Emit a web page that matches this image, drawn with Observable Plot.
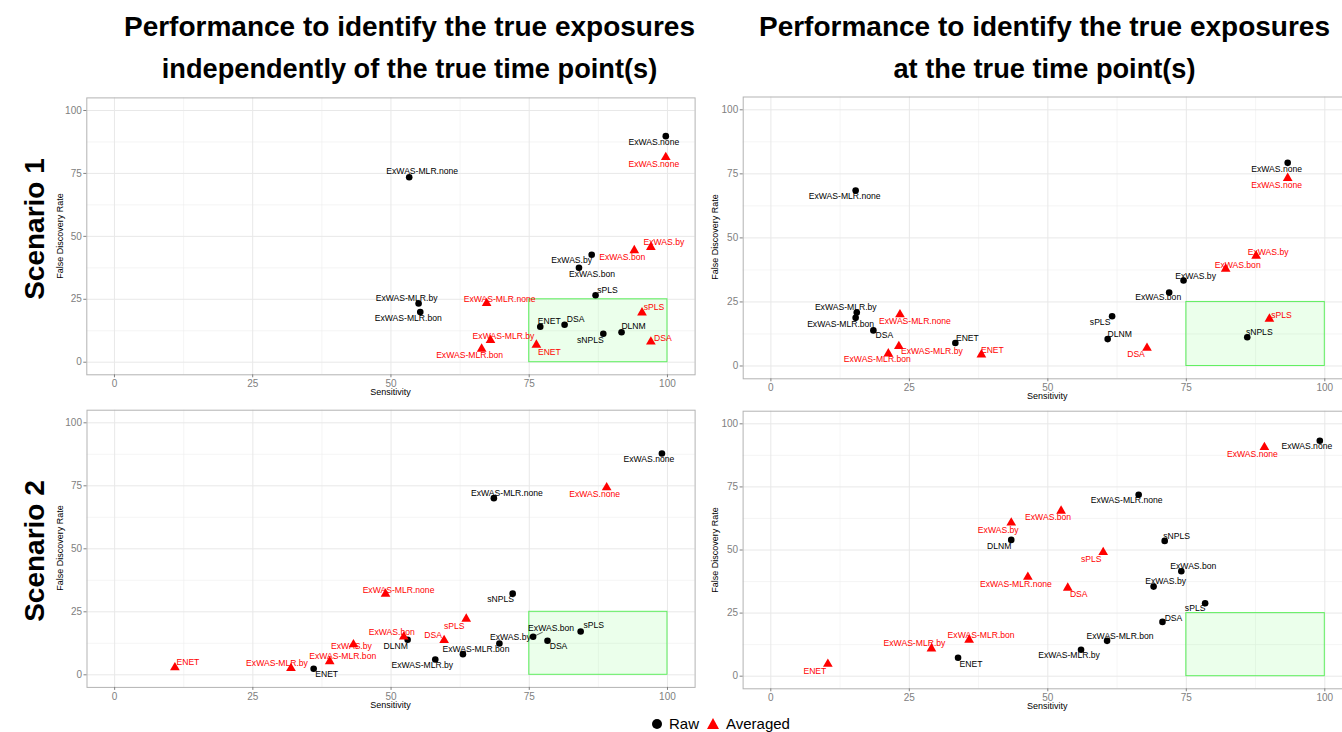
<!DOCTYPE html>
<html>
<head>
<meta charset="utf-8">
<script src="https://cdn.jsdelivr.net/npm/d3@7"></script>
<script src="https://cdn.jsdelivr.net/npm/@observablehq/plot@0.6"></script>
<style>
html,body{margin:0;padding:0;background:#fff;overflow:hidden;}
#root{position:relative;width:1342px;height:732px;overflow:hidden;font-family:"Liberation Sans",Arial,Helvetica,sans-serif;}
.abs{position:absolute;}
.title{font-weight:bold;line-height:42px;text-align:center;color:#000;white-space:nowrap;width:700px;}
.scen{font-weight:bold;font-size:28px;line-height:34px;text-align:center;width:240px;height:34px;transform:rotate(-90deg);white-space:nowrap;}
.ylab{font-size:9px;line-height:12px;text-align:center;width:200px;height:12px;transform:rotate(-90deg);white-space:nowrap;}
.xlab{font-size:9px;line-height:12px;text-align:center;width:200px;height:12px;white-space:nowrap;}
.panel svg{display:block;max-width:none !important;}
.legend{font-size:15px;line-height:20px;white-space:nowrap;}
</style>
</head>
<body>
<div id="root"></div>
<script>
// ---------- data ----------
const majorBreaks = [0, 25, 50, 75, 100];
const minorBreaks = [12.5, 37.5, 62.5, 87.5];
const targetZone = [{sensMin: 75, sensMax: 100, fdrMin: 0, fdrMax: 25}];
const seriesNames = ["Raw", "Averaged"];
const columnTitles = [
  ["Performance to identify the true exposures", "independently of the true time point(s)"],
  ["Performance to identify the true exposures", "at the true time point(s)"]
];
const rowTitles = ["Scenario 1", "Scenario 2"];

const s1IndRaw = [
  {method: "ExWAS.none", sens: 99.7, fdr: 89.8},
  {method: "ExWAS-MLR.none", sens: 53.3, fdr: 73.5},
  {method: "ExWAS.by", sens: 86.3, fdr: 42.7},
  {method: "ExWAS.bon", sens: 84.0, fdr: 37.5},
  {method: "sPLS", sens: 87.0, fdr: 26.6},
  {method: "ExWAS-MLR.by", sens: 55.0, fdr: 23.3},
  {method: "ExWAS-MLR.bon", sens: 55.3, fdr: 19.9},
  {method: "ENET", sens: 77.0, fdr: 14.1},
  {method: "DSA", sens: 81.4, fdr: 14.9},
  {method: "sNPLS", sens: 88.4, fdr: 11.3},
  {method: "DLNM", sens: 91.7, fdr: 11.9}
];
const s1IndAvg = [
  {method: "ExWAS.none", sens: 99.7, fdr: 81.4},
  {method: "ExWAS.by", sens: 97.0, fdr: 45.7},
  {method: "ExWAS.bon", sens: 94.0, fdr: 44.4},
  {method: "ExWAS-MLR.none", sens: 67.3, fdr: 23.4},
  {method: "sPLS", sens: 95.4, fdr: 19.7},
  {method: "ExWAS-MLR.by", sens: 68.0, fdr: 8.7},
  {method: "DSA", sens: 97.0, fdr: 8.1},
  {method: "ENET", sens: 76.3, fdr: 6.9},
  {method: "ExWAS-MLR.bon", sens: 66.4, fdr: 5.3}
];
const s1TimeRaw = [
  {method: "ExWAS-MLR.none", sens: 15.3, fdr: 68.5},
  {method: "ExWAS-MLR.by", sens: 15.5, fdr: 20.9},
  {method: "ExWAS-MLR.bon", sens: 15.3, fdr: 18.8},
  {method: "DSA", sens: 18.5, fdr: 13.9},
  {method: "ENET", sens: 33.3, fdr: 9.0},
  {method: "ExWAS.none", sens: 93.3, fdr: 79.3},
  {method: "ExWAS.by", sens: 74.5, fdr: 33.4},
  {method: "ExWAS.bon", sens: 71.9, fdr: 28.7},
  {method: "sPLS", sens: 61.6, fdr: 19.4},
  {method: "DLNM", sens: 60.8, fdr: 10.5},
  {method: "sNPLS", sens: 86.0, fdr: 11.2}
];
const s1TimeAvg = [
  {method: "ExWAS-MLR.none", sens: 23.3, fdr: 20.1},
  {method: "ExWAS-MLR.by", sens: 23.1, fdr: 7.7},
  {method: "ExWAS-MLR.bon", sens: 21.2, fdr: 4.8},
  {method: "ENET", sens: 38.0, fdr: 4.4},
  {method: "ExWAS.none", sens: 93.3, fdr: 73.3},
  {method: "ExWAS.by", sens: 87.6, fdr: 43.0},
  {method: "ExWAS.bon", sens: 82.1, fdr: 37.9},
  {method: "sPLS", sens: 90.0, fdr: 18.4},
  {method: "DSA", sens: 67.9, fdr: 7.0}
];
const s2IndRaw = [
  {method: "ENET", sens: 36.0, fdr: 2.4},
  {method: "DLNM", sens: 53.0, fdr: 13.9},
  {method: "ExWAS.none", sens: 99.0, fdr: 87.8},
  {method: "ExWAS-MLR.none", sens: 68.6, fdr: 70.1},
  {method: "sNPLS", sens: 72.0, fdr: 32.2},
  {method: "ExWAS.by", sens: 69.6, fdr: 12.4},
  {method: "ExWAS-MLR.bon", sens: 63.0, fdr: 8.2},
  {method: "ExWAS-MLR.by", sens: 58.0, fdr: 6.1},
  {method: "ExWAS.bon", sens: 75.7, fdr: 15.1},
  {method: "DSA", sens: 78.3, fdr: 13.5},
  {method: "sPLS", sens: 84.3, fdr: 17.2}
];
const s2IndAvg = [
  {method: "ENET", sens: 10.9, fdr: 2.9},
  {method: "ExWAS-MLR.by", sens: 31.9, fdr: 2.6},
  {method: "ExWAS-MLR.bon", sens: 38.9, fdr: 5.3},
  {method: "ExWAS.by", sens: 43.2, fdr: 12.0},
  {method: "ExWAS-MLR.none", sens: 49.0, fdr: 32.1},
  {method: "ExWAS.bon", sens: 52.3, fdr: 15.1},
  {method: "ExWAS.none", sens: 89.0, fdr: 74.3},
  {method: "sPLS", sens: 63.6, fdr: 22.2},
  {method: "DSA", sens: 59.6, fdr: 13.7}
];
const s2TimeRaw = [
  {method: "ENET", sens: 33.8, fdr: 7.3},
  {method: "DLNM", sens: 43.4, fdr: 54.0},
  {method: "ExWAS-MLR.none", sens: 66.4, fdr: 71.9},
  {method: "ExWAS.none", sens: 99.1, fdr: 93.3},
  {method: "sNPLS", sens: 71.1, fdr: 53.6},
  {method: "ExWAS.bon", sens: 74.1, fdr: 41.6},
  {method: "ExWAS.by", sens: 69.1, fdr: 35.5},
  {method: "sPLS", sens: 78.4, fdr: 28.9},
  {method: "DSA", sens: 70.7, fdr: 21.5},
  {method: "ExWAS-MLR.bon", sens: 60.7, fdr: 14.0},
  {method: "ExWAS-MLR.by", sens: 56.0, fdr: 10.5}
];
const s2TimeAvg = [
  {method: "ENET", sens: 10.3, fdr: 4.8},
  {method: "ExWAS-MLR.by", sens: 29.0, fdr: 10.9},
  {method: "ExWAS-MLR.bon", sens: 35.8, fdr: 14.4},
  {method: "ExWAS.by", sens: 43.4, fdr: 60.8},
  {method: "ExWAS-MLR.none", sens: 46.4, fdr: 39.3},
  {method: "ExWAS.bon", sens: 52.4, fdr: 65.5},
  {method: "ExWAS.none", sens: 89.1, fdr: 90.7},
  {method: "sPLS", sens: 60.0, fdr: 49.1},
  {method: "DSA", sens: 53.6, fdr: 35.0}
];

// ---------- label placement (pixel nudges, like ggrepel output) ----------
const nudge = {
  s1IndRaw: {"ExWAS.none":[-12,6],"ExWAS-MLR.none":[13,-6],"ExWAS.by":[-20,6],"ExWAS.bon":[13,6],"sPLS":[12,-5],
    "ExWAS-MLR.by":[-12,-5],"ExWAS-MLR.bon":[-12,6],"ENET":[9,-5],"DSA":[11,-5],"sNPLS":[-13,6],"DLNM":[12,-6]},
  s1IndAvg: {"ExWAS.none":[-12,7],"ExWAS.by":[13,-5],"ExWAS.bon":[-12,7],"ExWAS-MLR.none":[13,-4],"sPLS":[12,-5],
    "ExWAS-MLR.by":[13,-4],"DSA":[12,-4],"ENET":[13,7],"ExWAS-MLR.bon":[-12,6]},
  s1TimeRaw: {"ExWAS-MLR.none":[-11,6],"ExWAS-MLR.by":[-11,-5],"ExWAS-MLR.bon":[-15,6],"DSA":[11,5],"ENET":[12,-5],
    "ExWAS.none":[-11,6],"ExWAS.by":[12,-4],"ExWAS.bon":[-11,5],"sPLS":[-12,6],"DLNM":[12,-5],"sNPLS":[12,-5]},
  s1TimeAvg: {"ExWAS-MLR.none":[15,7],"ExWAS-MLR.by":[33,5],"ExWAS-MLR.bon":[-11,6],"ENET":[11,-4],"ExWAS.none":[-11,7],
    "ExWAS.by":[12,-4],"ExWAS.bon":[12,-4],"sPLS":[12,-4],"DSA":[-11,6]},
  s2IndRaw: {"ENET":[13,5],"DLNM":[-12,6],"ExWAS.none":[-13,6],"ExWAS-MLR.none":[13,-5],"sNPLS":[-12,6],"ExWAS.by":[11,-6],
    "ExWAS-MLR.bon":[13,-5],"ExWAS-MLR.by":[-13,6],"ExWAS.bon":[18,-9,9.6,-4.6],"DSA":[11,5],"sPLS":[13,-6]},
  s2IndAvg: {"ENET":[13,-5],"ExWAS-MLR.by":[-14,-5],"ExWAS-MLR.bon":[13,-5],"ExWAS.by":[-2,2],"ExWAS-MLR.none":[13,-4],
    "ExWAS.bon":[-12,-5],"ExWAS.none":[-12,7],"sPLS":[-12,7],"DSA":[-11,-5]},
  s2TimeRaw: {"ENET":[13,6],"DLNM":[-12,6],"ExWAS-MLR.none":[-12,6],"ExWAS.none":[-13,6],"sNPLS":[12,-5],"ExWAS.bon":[12,-5],
    "ExWAS.by":[12,-5],"sPLS":[-10,5],"DSA":[11,-4],"ExWAS-MLR.bon":[13,-5],"ExWAS-MLR.by":[-12,6]},
  s2TimeAvg: {"ENET":[-13,7],"ExWAS-MLR.by":[-17,-5],"ExWAS-MLR.bon":[12,-5],"ExWAS.by":[-13,7],"ExWAS-MLR.none":[-12,7],
    "ExWAS.bon":[-13,6],"ExWAS.none":[-12,7],"sPLS":[-12,7],"DSA":[11,6]}
};

const root = document.getElementById("root");
function addDiv(cls, text, style) {
  const d = document.createElement("div");
  d.className = "abs " + cls;
  d.textContent = text;
  Object.assign(d.style, style);
  root.appendChild(d);
  return d;
}

const LABEL_SIZE = 8.6;
function textMarks(data, nd, color, g) {
  const out = [];
  const pxX = (g.width - g.ml - g.mr) / 110;
  const pxY = (g.height - g.mt - g.mb) / 110;
  for (const d of data) {
    const n = nd[d.method] || [0, 0];
    if (n.length > 2) {
      out.push(Plot.link([d], {x1: "sens", y1: "fdr", x2: v => v.sens + n[2] / pxX, y2: v => v.fdr - n[3] / pxY,
        stroke: color, strokeWidth: 0.6}));
    }
    out.push(Plot.text([d], {x: "sens", y: "fdr", text: "method", dx: n[0], dy: n[1], fill: color,
      fontSize: LABEL_SIZE, fontFamily: "Liberation Sans, Arial, sans-serif"}));
  }
  return out;
}

function panel(raw, avg, ndRaw, ndAvg, g) {
  const marks = [
    Plot.ruleX(minorBreaks, {stroke: "#efefef", strokeWidth: 0.6}),
    Plot.ruleY(minorBreaks, {stroke: "#efefef", strokeWidth: 0.6}),
    Plot.ruleX(majorBreaks, {stroke: "#e8e8e8", strokeWidth: 1}),
    Plot.ruleY(majorBreaks, {stroke: "#e8e8e8", strokeWidth: 1}),
    Plot.rect(targetZone, {x1: "sensMin", x2: "sensMax", y1: "fdrMin", y2: "fdrMax",
      fill: "#00ff00", fillOpacity: 0.08, stroke: "#33ee33", strokeOpacity: 0.75, strokeWidth: 1}),
    Plot.frame({stroke: "#b3b3b3", strokeWidth: 1}),
    Plot.axisX({ticks: majorBreaks, tickSize: 3, tickPadding: 2, label: null, color: "#808080", fontSize: 10}),
    Plot.axisY({ticks: majorBreaks, tickSize: 3, tickPadding: 2, label: null, color: "#808080", fontSize: 10}),
    Plot.dot(raw, {x: "sens", y: "fdr", r: 3.3, fill: "black", symbol: "circle"}),
    Plot.dot(avg, {x: "sens", y: "fdr", r: 3.6, fill: "#ff0000", symbol: "triangle"}),
    ...textMarks(raw, ndRaw, "#000000", g),
    ...textMarks(avg, ndAvg, "#ff0000", g)
  ];
  const svg = Plot.plot({
    width: g.width, height: g.height,
    marginTop: g.mt, marginBottom: g.mb, marginLeft: g.ml, marginRight: g.mr,
    x: {domain: [-5, 105]}, y: {domain: [-5, 105]},
    style: {fontFamily: "Liberation Sans, Arial, sans-serif", fontSize: "10px", background: "transparent",
      overflow: "visible", maxWidth: "none"},
    marks
  });
  svg.style.maxWidth = "none";
  svg.style.width = g.width + "px";
  svg.style.height = g.height + "px";
  const wrap = document.createElement("div");
  wrap.className = "abs panel";
  wrap.style.left = g.left + "px";
  wrap.style.top = g.top + "px";
  wrap.style.width = g.width + "px";
  wrap.style.height = g.height + "px";
  wrap.appendChild(svg);
  root.appendChild(wrap);
  // axis titles
  const cx = g.left + g.ml + (g.width - g.ml - g.mr) / 2;
  const cy = g.top + g.mt + (g.height - g.mt - g.mb) / 2;
  addDiv("xlab", "Sensitivity", {left: (cx - 100) + "px", top: (g.top + g.height - g.mb + 12) + "px"});
  addDiv("ylab", "False Discovery Rate", {left: (g.yLabX - 100) + "px", top: (cy - 6) + "px"});
}

const geoTL = {left: 0, top: 90, width: 695, height: 310, mt: 7.4, mb: 25.7, ml: 86.3, mr: 0.4, yLabX: 60};
const geoTR = {left: 700, top: 90, width: 652, height: 310, mt: 6.5, mb: 21.7, ml: 42.7, mr: 0, yLabX: 715};
const geoBL = {left: 0, top: 400, width: 695, height: 320, mt: 9.7, mb: 33.1, ml: 86.5, mr: 0.4, yLabX: 60};
const geoBR = {left: 700, top: 400, width: 652, height: 320, mt: 10.7, mb: 31.7, ml: 42.6, mr: 0, yLabX: 715};

panel(s1IndRaw, s1IndAvg, nudge.s1IndRaw, nudge.s1IndAvg, geoTL);
panel(s1TimeRaw, s1TimeAvg, nudge.s1TimeRaw, nudge.s1TimeAvg, geoTR);
panel(s2IndRaw, s2IndAvg, nudge.s2IndRaw, nudge.s2IndAvg, geoBL);
panel(s2TimeRaw, s2TimeAvg, nudge.s2TimeRaw, nudge.s2TimeAvg, geoBR);

// column titles (two lines each)
const titleCenters = [409.5, 1044.5];
columnTitles.forEach((lines, i) => {
  addDiv("title", lines[0], {left: (titleCenters[i] - 350) + "px", top: "6px", fontSize: "28px"});
  addDiv("title", lines[1], {left: (titleCenters[i] - 350) + "px", top: "48px", fontSize: "27.2px"});
});

// row titles
addDiv("scen", rowTitles[0], {left: (35 - 120) + "px", top: (229 - 17) + "px"});
addDiv("scen", rowTitles[1], {left: (35 - 120) + "px", top: (551 - 17) + "px"});

// legend
const leg = document.createElement("div");
leg.className = "abs legend";
leg.style.left = "650px";
leg.style.top = "714px";
leg.innerHTML =
  '<svg width="14" height="14" style="vertical-align:-2px"><circle cx="7" cy="7" r="5" fill="black"/></svg>' +
  '<span style="margin-left:5px">' + seriesNames[0] + '</span>' +
  '<svg width="16" height="14" style="vertical-align:-2px;margin-left:6px"><path d="M8,1 L14,12 L2,12 Z" fill="#ff0000"/></svg>' +
  '<span style="margin-left:5px">' + seriesNames[1] + '</span>';
root.appendChild(leg);
</script>
</body>
</html>
